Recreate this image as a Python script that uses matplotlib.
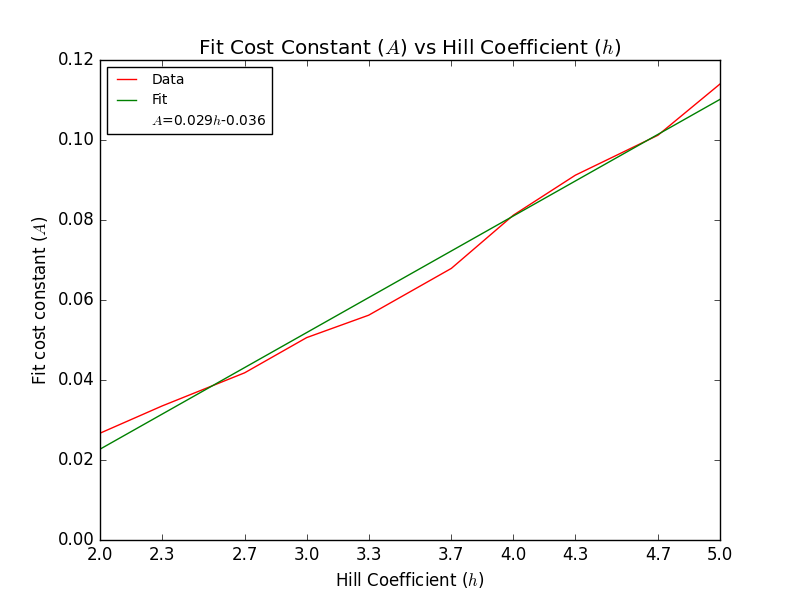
import numpy as np
import matplotlib
matplotlib.use("Agg")
import matplotlib.pyplot as plt

plt.style.use("classic")

hill = [2.0, 2.3, 2.7, 3.0, 3.3, 3.7, 4.0, 4.3, 4.7, 5.0]
cost_const = [0.0267, 0.0335, 0.0418, 0.0506, 0.0562, 0.0679, 0.0812, 0.0912, 0.1012, 0.1140]
tick_labels = ["2.0", "2.3", "2.7", "3.0", "3.3", "3.7", "4.0", "4.3", "4.7", "5.0"]

slope, intercept = np.polyfit(hill, cost_const, 1)
fit_vals = [slope * h + intercept for h in hill]

fig = plt.figure(figsize=(8, 6), dpi=100)
ax = fig.add_subplot(111)
ax.plot(hill, cost_const, color="r", label="Data")
ax.plot(hill, fit_vals, color="g", label="Fit")
ax.plot([], [], " ", label="$A$=0.029$h$-0.036")
ax.set_xticks(hill)
ax.set_xticklabels(tick_labels)
ax.set_xlim(2.0, 5.0)
ax.set_ylim(0.0, 0.12)
ax.set_title("Fit Cost Constant ($A$) vs Hill Coefficient ($h$)")
ax.set_xlabel("Hill Coefficient ($h$)")
ax.set_ylabel("Fit cost constant ($A$)")
ax.legend(loc="upper left", fontsize=10)
fig.savefig("out.png", dpi=100)
